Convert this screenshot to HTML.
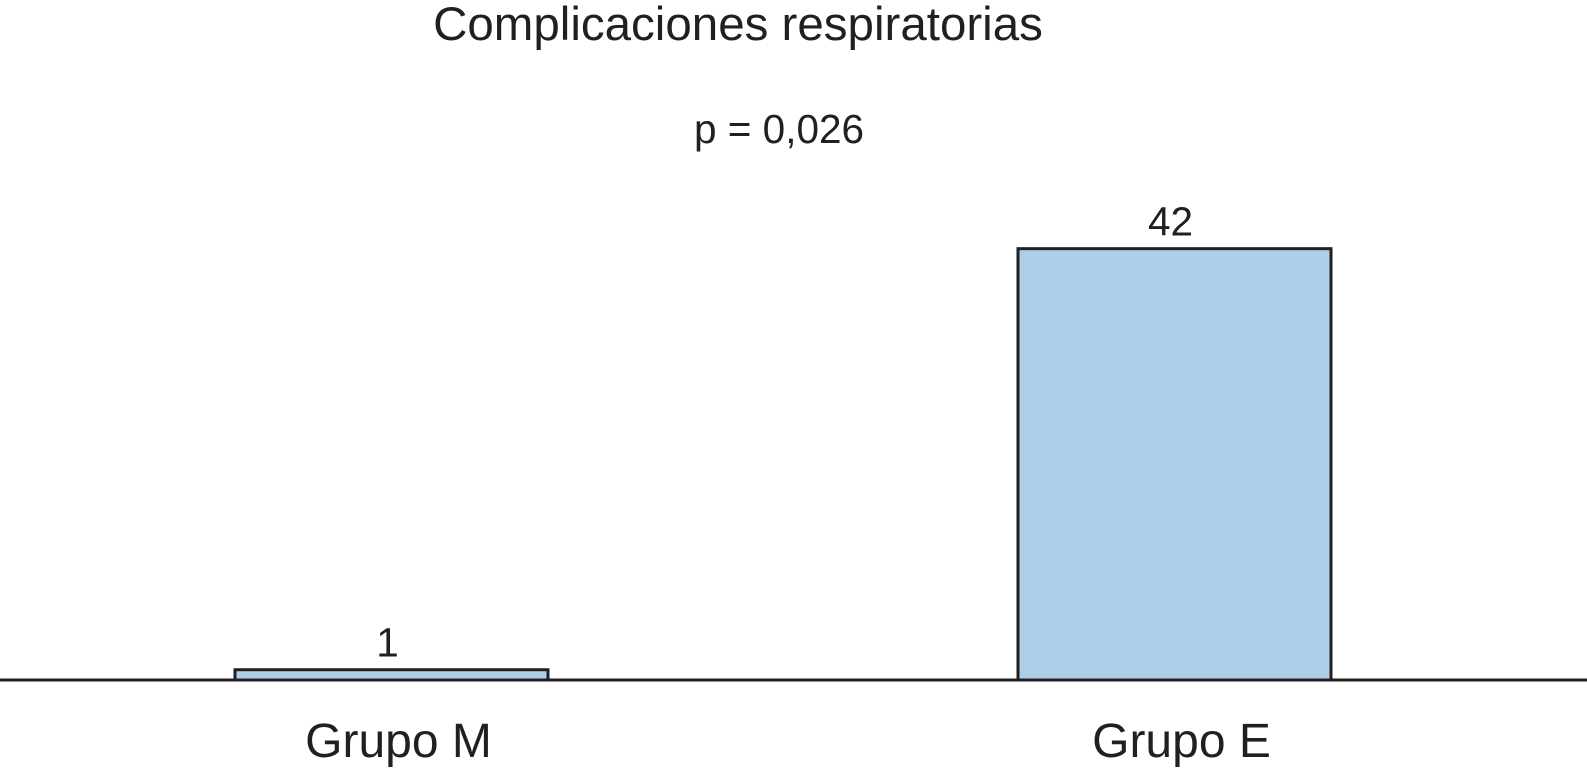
<!DOCTYPE html>
<html><head><meta charset="utf-8"><style>
html,body{margin:0;padding:0;background:#fff;}
svg{display:block;font-family:"Liberation Sans",Arial,sans-serif;}
</style></head><body>
<svg id="chart" width="1587" height="781" viewBox="0 0 1587 781">
<text x="738" y="40" font-size="47.5" text-anchor="middle" fill="#231f20">Complicaciones respiratorias</text>
<text x="779" y="143" font-size="40.5" text-anchor="middle" fill="#231f20">p = 0,026</text>
<g id="bars"></g>
<line x1="0" y1="680" x2="1587" y2="680" stroke="#231f20" stroke-width="3"/>
</svg>
<script>
const categories = ["Grupo M", "Grupo E"];
const values = [1, 42];
const valueLabels = ["1", "42"];

const baseY = 680, pxPerUnit = 10.27;
const centers = [391.5, 1174.5], barW = 313;
function yScale(v){ return baseY - v * pxPerUnit; }
const g = document.getElementById('bars');
const NS = "http://www.w3.org/2000/svg";
categories.forEach((c, i) => {
  const cx = centers[i];
  const r = document.createElementNS(NS, 'rect');
  r.setAttribute('x', cx - barW/2);
  r.setAttribute('y', yScale(values[i]));
  r.setAttribute('width', barW);
  r.setAttribute('height', baseY - yScale(values[i]));
  r.setAttribute('fill', '#aecde9');
  r.setAttribute('stroke', '#231f20');
  r.setAttribute('stroke-width', '3');
  
  
  g.appendChild(r);
  const t = document.createElementNS(NS, 'text');
  t.setAttribute('x', cx - 4);
  t.setAttribute('y', yScale(values[i]) - 13);
  t.setAttribute('font-size', '40.5');
  t.setAttribute('text-anchor', 'middle');
  t.setAttribute('fill', '#231f20');
  t.textContent = valueLabels[i];
  
  
  g.appendChild(t);
  const l = document.createElementNS(NS, 'text');
  l.setAttribute('x', cx + 7);
  l.setAttribute('y', 757);
  l.setAttribute('font-size', '48');
  l.setAttribute('text-anchor', 'middle');
  l.setAttribute('fill', '#231f20');
  l.textContent = c;
  
  
  g.appendChild(l);
});
</script>
</body></html>
